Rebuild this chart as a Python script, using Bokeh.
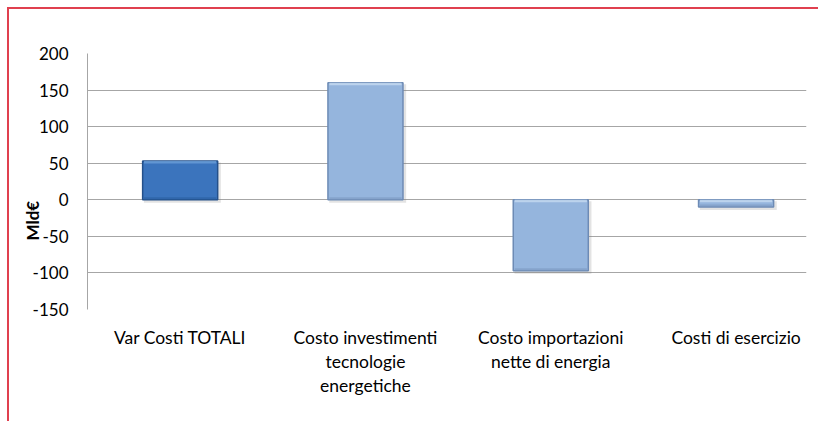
from bokeh.plotting import figure
from bokeh.models import Range1d, FixedTicker, ColumnDataSource, Title
from bokeh.embed import file_html
from bokeh.resources import INLINE

categories = ["Var Costi TOTALI", "Costo investimenti\ntecnologie\nenergetiche",
              "Costo importazioni\nnette di energia", "Costi di esercizio"]
values = [53, 160, -97, -10]
fills = ["#3b74bd", "#95b5dd", "#95b5dd", "#95b5dd"]
lines = ["#24508a", "#6d8bb5", "#6d8bb5", "#6d8bb5"]
highlights = ["#6c9fd8", "#c6dbf1", "#c6dbf1", "#c6dbf1"]
lowlights = ["#2a5d9e", "#7b98c0", "#7b98c0", "#7b98c0"]
y_ticks = [-150, -100, -50, 0, 50, 100, 150, 200]
y_tick_labels = [str(t) for t in y_ticks]
y_title = "Mld€"

xs = list(range(len(categories)))
upper = [max(v, 0) for v in values]
lower = [min(v, 0) for v in values]
bevel = 3.5
src = ColumnDataSource(dict(
    x=xs, top=values, fill=fills, line=lines, hi=highlights, lo=lowlights,
    up=upper, low=lower,
    hi_bottom=[u - bevel for u in upper],
    lo_top=[l + bevel for l in lower],
    sh_top=[u - 2 for u in upper], sh_bottom=[l - 4 for l in lower],
    xs_sh=[x + 0.012 for x in xs],
))

p = figure(width=811, height=414, output_backend="svg", toolbar_location=None,
           x_range=Range1d(-0.5, 3.38), y_range=Range1d(-150, 200),
           min_border_left=78, min_border_top=44, min_border_right=14, min_border_bottom=114)
p.styles = {"margin-left": "7px", "margin-top": "7px",
            "border-top": "2px solid #e0404f", "border-left": "2px solid #e0404f"}
p.outline_line_color = None
p.background_fill_color = "white"
p.border_fill_color = "white"

# soft shadow
p.vbar(x="xs_sh", top="sh_top", bottom="sh_bottom", width=0.415, source=src,
       fill_color="#808080", fill_alpha=0.22, line_color=None)
# bars
p.vbar(x="x", top="up", bottom="low", width=0.405, source=src,
       fill_color="fill", line_color="line", line_width=1.5)
# bevel highlight / lowlight
p.vbar(x="x", top="up", bottom="hi_bottom", width=0.39, source=src,
       fill_color="hi", fill_alpha=0.8, line_color=None)
p.vbar(x="x", top="lo_top", bottom="low", width=0.39, source=src,
       fill_color="lo", fill_alpha=0.6, line_color=None)

p.xgrid.visible = False
p.ygrid.ticker = FixedTicker(ticks=y_ticks)
p.ygrid.grid_line_color = "#a6a6a6"
p.ygrid.grid_line_width = 1
p.ygrid.level = "underlay"

p.yaxis.ticker = FixedTicker(ticks=y_ticks)
p.yaxis.major_label_overrides = dict(zip(y_ticks, y_tick_labels))
p.yaxis.axis_line_color = "#a6a6a6"
p.yaxis.major_tick_line_color = None
p.yaxis.minor_tick_line_color = None
p.yaxis.major_tick_out = 0
p.yaxis.major_label_standoff = 19
p.yaxis.major_label_text_font = "Lato"
p.yaxis.major_label_text_font_size = "17px"
p.yaxis.major_label_text_color = "black"

ytitle = Title(text=y_title, align="left", vertical_align="bottom", offset=69, standoff=-26,
               text_font="Lato", text_font_size="17px", text_font_style="bold",
               text_color="black")
p.add_layout(ytitle, "left")

p.xaxis.ticker = FixedTicker(ticks=xs)
p.xaxis.major_label_overrides = {i: c for i, c in enumerate(categories)}
p.xaxis.axis_line_color = None
p.xaxis.major_tick_line_color = None
p.xaxis.minor_tick_line_color = None
p.xaxis.major_tick_out = 0
p.xaxis.major_label_standoff = 17
p.xaxis.major_label_text_font = "Lato"
p.xaxis.major_label_text_font_size = "17.5px"
p.xaxis.major_label_text_color = "black"
p.xaxis.major_label_text_line_height = 1.15

open("out.html", "w").write(file_html(p, INLINE))
